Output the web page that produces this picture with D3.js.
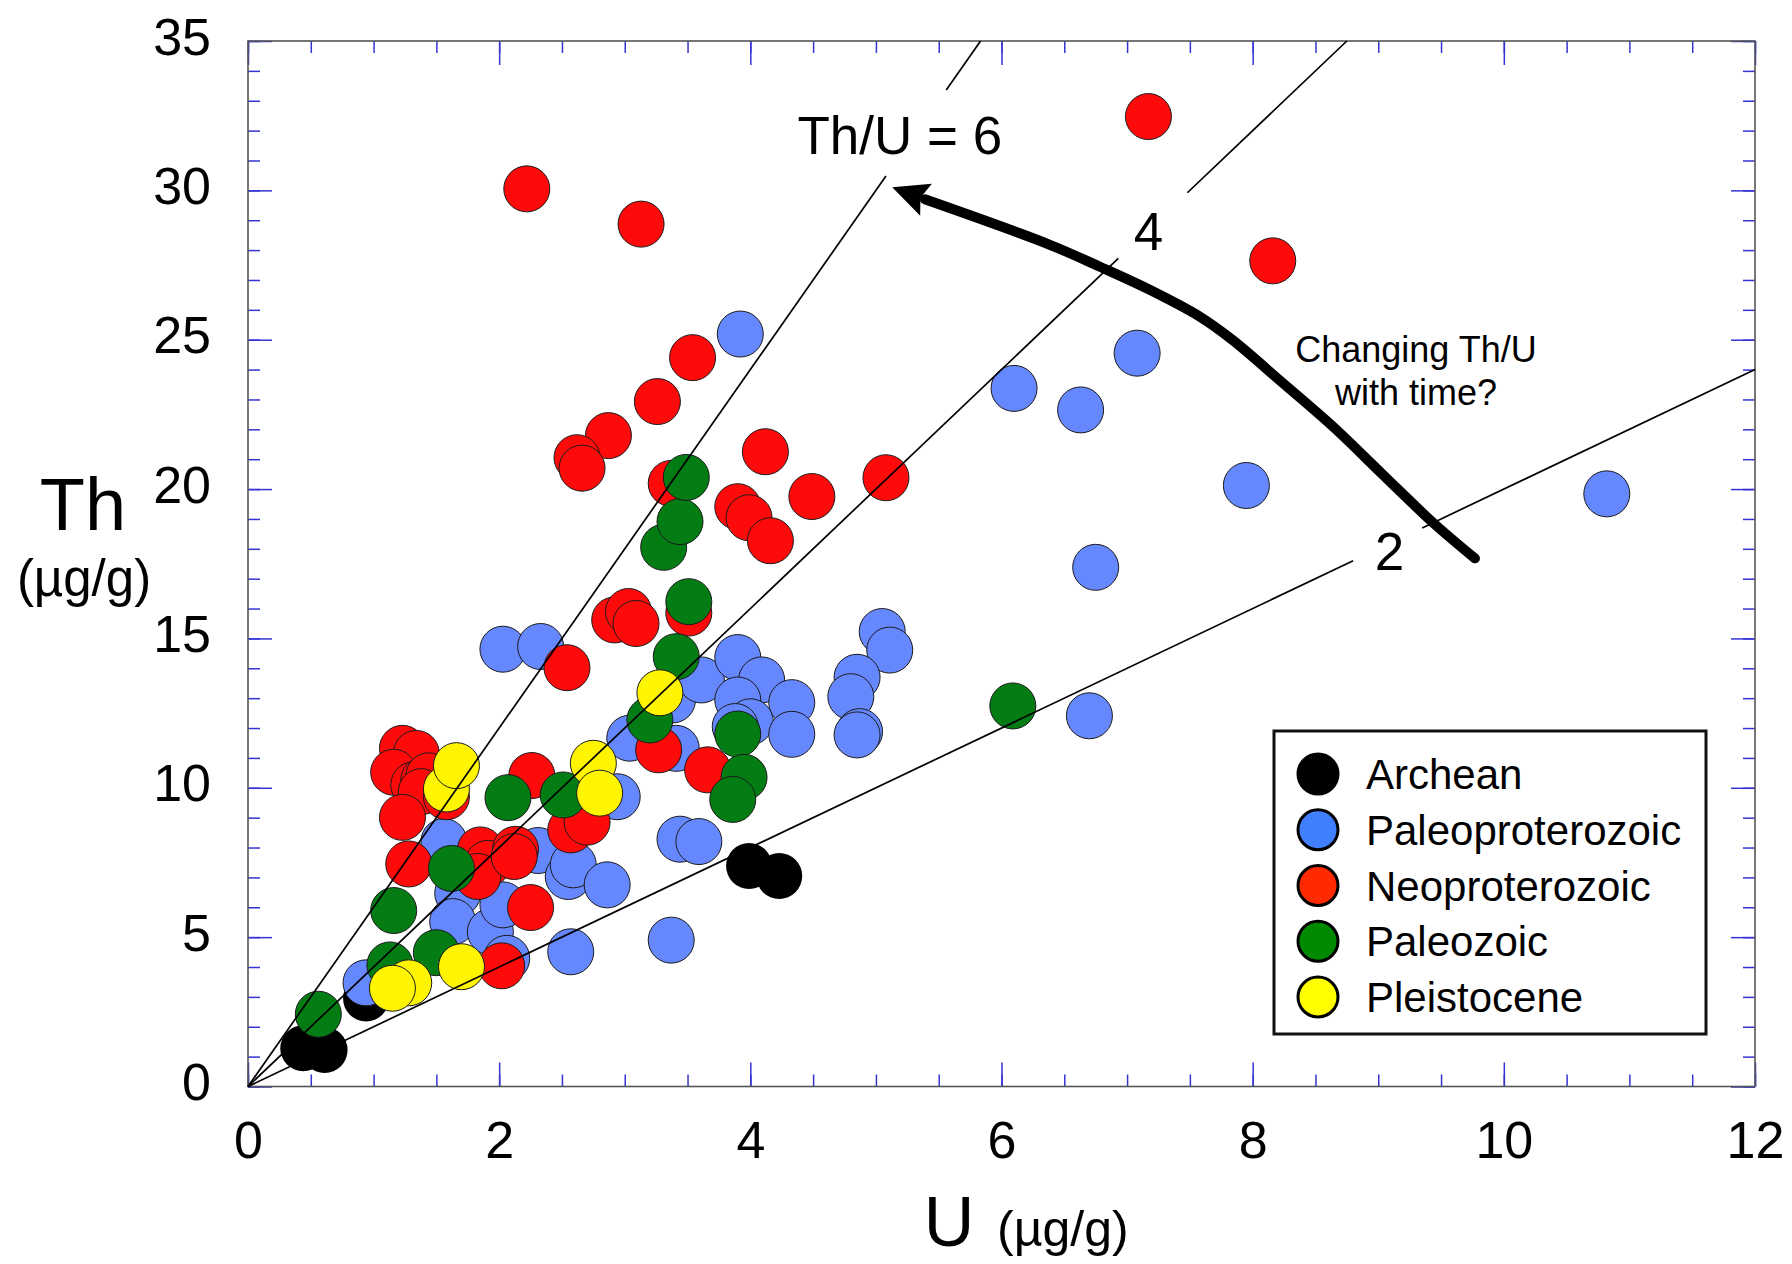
<!DOCTYPE html>
<html><head><meta charset="utf-8">
<script src="https://cdn.jsdelivr.net/npm/d3@7"></script>
<style>
body{margin:0;background:#fff;}
svg{display:block;}
text{font-family:"Liberation Sans",Arial,Helvetica,sans-serif;fill:#000;}
</style>
</head><body>
<svg id="chart" width="1792" height="1264"></svg>
<script>
// ---------- data (U µg/g, Th µg/g) ----------
const seriesNames = ["Archean","Paleoproterozoic","Neoproterozoic","Paleozoic","Pleistocene"];
const archean = [[0.44,1.28],[0.61,1.22],[0.94,2.95],[3.99,7.38],[4.23,7.05]];
const paleoproterozoic = [
 [0.94,3.47],[1.56,8.20],[1.67,6.47],[1.63,5.52],[1.93,5.18],[2.03,6.08],[2.06,4.29],
 [2.31,7.90],[2.55,7.03],[2.59,7.42],[2.86,6.75],[2.57,4.51],[3.37,4.90],[2.94,9.70],
 [2.03,14.64],[2.33,14.73],[3.04,11.66],[3.41,11.32],[3.44,8.28],[3.59,8.20],[3.38,12.94],
 [3.61,13.61],[3.90,14.36],[4.09,13.61],[3.90,12.94],[4.33,12.85],[4.00,12.21],[3.88,12.05],
 [4.33,11.79],[5.05,15.23],[5.11,14.61],[4.85,13.70],[4.80,13.05],[4.87,11.88],[4.85,11.77],
 [3.92,25.19],[6.10,23.37],[6.63,22.65],[7.08,24.55],[7.95,20.12],[10.82,19.84],[6.75,17.38],[6.70,12.41]
];
const neoproterozoic = [
 [2.22,30.05],[3.13,28.87],[7.17,32.47],[8.16,27.64],
 [3.54,24.40],[3.26,22.93],[2.87,21.79],[2.62,21.05],[2.66,20.70],[3.37,20.19],
 [4.12,21.25],[3.90,19.41],[3.99,19.04],[4.16,18.27],[4.49,19.75],[5.08,20.38],
 [2.92,15.62],[3.03,15.90],[3.09,15.50],[3.51,15.85],[2.54,14.02],
 [3.27,11.27],[3.66,10.60],[2.26,10.41],[2.57,8.59],[2.70,8.85],
 [1.23,11.32],[1.34,11.15],[1.16,10.52],[1.32,10.10],[1.40,10.26],[1.44,10.40],[1.38,9.87],[1.58,9.70],[1.23,9.01],
 [1.28,7.45],[1.85,7.92],[1.91,7.47],[1.83,7.03],[2.13,7.94],[2.12,7.70],
 [2.25,5.99],[2.02,4.04]
];
const paleozoic = [
 [0.56,2.42],[1.13,4.07],[1.50,4.48],[1.16,5.89],[1.62,7.30],[2.07,9.67],[2.51,9.76],
 [3.20,12.27],[3.41,14.39],[3.51,16.23],[3.31,18.05],[3.44,18.91],[3.49,20.39],
 [3.90,11.80],[3.95,10.35],[3.86,9.61],[6.09,12.74]
];
const pleistocene = [[1.28,3.47],[1.15,3.29],[1.70,4.01],[1.58,9.96],[1.66,10.74],[2.75,10.82],[2.80,9.82],[3.28,13.18]];

const pointColors  = ["#000000","#6688ff","#ff0a0a","#047c14","#fff500"];
const legendColors = ["#000000","#4080ff","#ff2a00","#008a00","#ffff00"];

// reference Th/U lines and the gaps left for their labels (in U)
const ratios = [6, 4, 2];
const ratioGapU = [[5.08,5.56],[6.93,7.48],[8.80,9.35]];
const ratioLabels = ["Th/U = 6","4","2"];
const ratioLabelPos = [[5.19,31.22],[7.17,28.0],[9.09,17.29]];

// curved arrow (U, Th), tail to head
const arrowPath = [[9.77,17.68],[9.44,18.86],[9.04,20.47],[8.64,22.09],[8.24,23.55],[7.84,24.99],
  [7.58,25.77],[7.18,26.67],[6.78,27.45],[6.39,28.17],[5.39,29.70]];
const arrowTip = [5.13,30.10];
const noteLines = ["Changing Th/U","with time?"];
const notePos = [[9.30,24.27],[9.30,22.82]];

const xTicksMajor = [0,2,4,6,8,10,12];
const yTicksMajor = [0,5,10,15,20,25,30,35];

// ---------- layout ----------
const svg = d3.select("#chart");
const L = 248, R = 1755, T = 41, B = 1086.5;
const x = d3.scaleLinear().domain([0,12]).range([L,R]);
const y = d3.scaleLinear().domain([0,35]).range([B,T]);
svg.append("rect").attr("width",1792).attr("height",1264).attr("fill","#fff");

const tickColor = "#3434d4";
function styleAxis(g){
  g.select(".domain").remove();
  g.selectAll(".tick line").attr("stroke",tickColor).attr("stroke-width",1.5);
}
// major + minor ticks, all inward
svg.append("g").attr("transform",`translate(${L},0)`)
  .call(d3.axisLeft(y).tickValues(yTicksMajor).tickSize(-24).tickPadding(37).tickFormat(d3.format("d")))
  .call(styleAxis)
  .call(g=>g.selectAll(".tick text").attr("font-size",52).attr("dy",13).attr("font-family","Liberation Sans, Arial, sans-serif"));
svg.append("g").attr("transform",`translate(${L},0)`)
  .call(d3.axisLeft(y).tickValues(d3.range(0,36,1)).tickSize(-12).tickFormat(""))
  .call(styleAxis);
svg.append("g").attr("transform",`translate(${R},0)`)
  .call(d3.axisRight(y).tickValues(yTicksMajor).tickSize(-24).tickFormat(""))
  .call(styleAxis);
svg.append("g").attr("transform",`translate(${R},0)`)
  .call(d3.axisRight(y).tickValues(d3.range(0,36,1)).tickSize(-12).tickFormat(""))
  .call(styleAxis);
svg.append("g").attr("transform",`translate(0,${B})`)
  .call(d3.axisBottom(x).tickValues(xTicksMajor).tickSize(-24).tickPadding(0).tickFormat(d3.format("d")))
  .call(styleAxis)
  .call(g=>g.selectAll(".tick text").attr("font-size",52).attr("dy",null).attr("y",71).attr("font-family","Liberation Sans, Arial, sans-serif"));
svg.append("g").attr("transform",`translate(0,${B})`)
  .call(d3.axisBottom(x).tickValues(d3.range(0,12.01,0.5)).tickSize(-12).tickFormat(""))
  .call(styleAxis);
svg.append("g").attr("transform",`translate(0,${T})`)
  .call(d3.axisTop(x).tickValues(xTicksMajor).tickSize(-24).tickFormat(""))
  .call(styleAxis);
svg.append("g").attr("transform",`translate(0,${T})`)
  .call(d3.axisTop(x).tickValues(d3.range(0,12.01,0.5)).tickSize(-12).tickFormat(""))
  .call(styleAxis);

// frame
svg.append("rect").attr("x",L).attr("y",T).attr("width",R-L).attr("height",B-T)
  .attr("fill","none").attr("stroke","#555").attr("stroke-width",1.6);

// points
const allSeries = [archean, paleoproterozoic, neoproterozoic, paleozoic, pleistocene];
allSeries.forEach((s,i)=>{
  svg.append("g").selectAll("circle").data(s).join("circle")
    .attr("cx",d=>x(d[0])).attr("cy",d=>y(d[1])).attr("r",23)
    .attr("fill",pointColors[i])
    .attr("stroke", i===0 ? "none" : "#1a1a1a").attr("stroke-width",1);
});

// ratio lines
const lineG = svg.append("g");
ratios.forEach((r,i)=>{
  const uEnd = Math.min(12, 35/r);
  const segs = [[0, ratioGapU[i][0]],[ratioGapU[i][1], uEnd]];
  segs.forEach(sg=>{
    lineG.append("line")
      .attr("x1",x(sg[0])).attr("y1",y(r*sg[0]))
      .attr("x2",x(sg[1])).attr("y2",y(r*sg[1]))
      .attr("stroke","#000").attr("stroke-width",1.7);
  });
  svg.append("text").attr("x",x(ratioLabelPos[i][0])).attr("y",y(ratioLabelPos[i][1]))
    .attr("text-anchor","middle").attr("font-size",53).text(ratioLabels[i]);
});

// arrow
const ln = d3.line().x(d=>x(d[0])).y(d=>y(d[1])).curve(d3.curveCatmullRom);
svg.append("path").attr("d",ln(arrowPath)).attr("fill","none")
  .attr("stroke","#000").attr("stroke-width",10).attr("stroke-linecap","round");
(function(){
  const b = arrowPath[arrowPath.length-1];
  const tx = x(arrowTip[0]), ty = y(arrowTip[1]);
  const bx0 = x(b[0]), by0 = y(b[1]);
  const dx = tx-bx0, dy = ty-by0, len = Math.hypot(dx,dy);
  const ux = dx/len, uy = dy/len;
  const headLen = 36, half = 17;
  const bx = tx-ux*headLen, by = ty-uy*headLen;
  const pts = [[tx,ty],[bx-uy*half,by+ux*half],[bx+ux*6,by+uy*6],[bx+uy*half,by-ux*half]];
  svg.append("path").attr("d","M"+pts.map(p=>p.join(",")).join("L")+"Z").attr("fill","#000");
})();

// note
noteLines.forEach((t,i)=>{
  svg.append("text").attr("x",x(notePos[i][0])).attr("y",y(notePos[i][1]))
    .attr("text-anchor","middle").attr("font-size",36).text(t);
});

// axis titles
svg.append("text").attr("x",83).attr("y",530).attr("text-anchor","middle").attr("font-size",74).text("Th");
svg.append("text").attr("x",84).attr("y",596).attr("text-anchor","middle").attr("font-size",51).text("(µg/g)");
svg.append("text").attr("x",949).attr("y",1246).attr("text-anchor","middle").attr("font-size",70).text("U");
svg.append("text").attr("x",997).attr("y",1246).attr("font-size",50).text("(µg/g)");

// legend
const lg = svg.append("g");
lg.append("rect").attr("x",1274).attr("y",731).attr("width",432).attr("height",303)
  .attr("fill","#fff").attr("stroke","#111").attr("stroke-width",3);
const rowY = d3.scaleLinear().domain([0,4]).range([774,997]);
seriesNames.forEach((n,i)=>{
  lg.append("circle").attr("cx",1318).attr("cy",rowY(i)).attr("r",20)
    .attr("fill",legendColors[i]).attr("stroke","#000").attr("stroke-width",3);
  lg.append("text").attr("x",1366).attr("y",rowY(i)+15).attr("font-size",42).text(n);
});
</script>
</body></html>
